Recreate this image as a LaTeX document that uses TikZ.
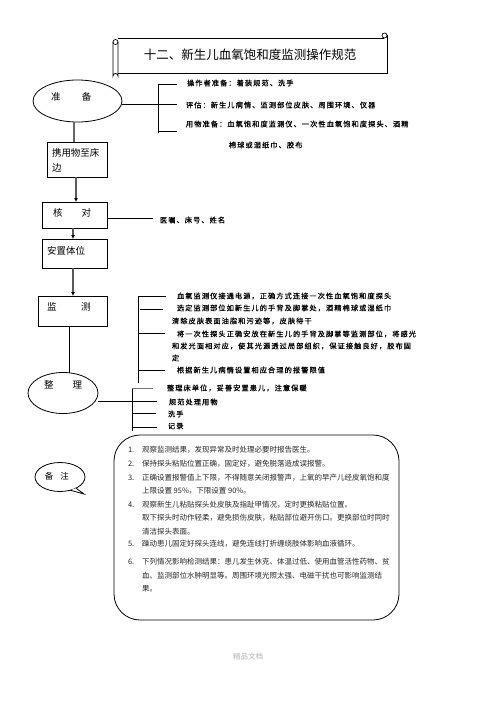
\documentclass[tikz,border=0pt]{standalone}
\usepackage{fontspec}
\setmainfont{Noto Sans CJK SC}
\newfontfamily\annfont[LetterSpace=15,FakeBold=0.6]{Noto Sans CJK SC}
\usetikzlibrary{shapes.geometric,arrows.meta,calc}
\begin{document}
\begin{tikzpicture}[x=1pt,y=-1pt,
  every node/.style={inner sep=0,outer sep=0},
  ln/.style={draw=black,line width=0.8pt},
  gln/.style={draw=black!60,line width=1.6pt},
  arr/.style={draw=black!65,line width=1.3pt,-{Latex[length=4pt,width=4pt,color=black]}},
  ell/.style={ellipse,draw,line width=0.8pt},
  bx/.style={rectangle,draw,line width=0.9pt},
  ann/.style={anchor=west,font=\annfont\fontsize{7.2}{8}\selectfont},
  lbl/.style={anchor=west,font=\fontsize{9.5}{11}\selectfont},
  nt/.style={anchor=west,font=\fontsize{7.5}{9}\selectfont,text=black!85},
]
\useasboundingbox (0,0) rectangle (496,702);
\fill[white] (0,0) rectangle (496,702);

% ---------- title scroll ----------
\draw[line width=0.8pt] (118,38) -- (384,38);
\draw[line width=0.8pt] (387,35) -- (387,73) -- (118,73);
\draw[line width=0.8pt] (113,42) -- (113,76) arc[start angle=180,end angle=360,radius=2.5] -- (118,42);
\draw[line width=0.7pt] (115.5,42) circle[radius=2.5];
\draw[line width=0.7pt] (384.5,35.5) circle[radius=2.5];
\node[font=\fontsize{12.5}{14}\selectfont] (title) at (250,55) {十二、新生儿血氧饱和度监测操作规范};

% ---------- left column ----------
\node[ell,minimum width=89,minimum height=42] (zb) at (77.5,101) {};
\node[lbl] (zbt) at (51,97) {准\hspace{2.25em}备};

\node[bx,minimum width=60,minimum height=35] (xy) at (77,159.5) {};
\node[anchor=north west,font=\fontsize{9.5}{15}\selectfont,align=left] (xyt) at (52,148) {携用物至床\\边};

\node[bx,minimum width=65,minimum height=26] (hd) at (74.5,215) {};
\node[lbl] (hdt) at (53,213) {核\hspace{2em}对};

\node[bx,minimum width=65,minimum height=29] (az) at (74.5,253.5) {};
\node[lbl] (azt) at (47,251) {安置体位};

\node[bx,minimum width=69,minimum height=30] (jc) at (72.5,311) {};
\node[lbl] (jct) at (47,307) {监\hspace{2.6em}测};

\node[ell,minimum width=70,minimum height=41] (zl) at (63,393) {};
\node[lbl] (zlt) at (44,385) {整\hspace{2em}理};

\node[ell,minimum width=50,minimum height=29] (bz) at (60,477) {};
\draw[line width=0.8pt,fill=white] (bz.-35) -- (84,494) -- (bz.-52);
\node[anchor=west,font=\fontsize{8.5}{10}\selectfont] (bzt) at (45,476) {备\hspace{0.8em}注};

% connectors in left column
\draw[gln] ([xshift=-3.5]zb.south) -- ([xshift=-3.5]zb.south |- xy.north);
\draw[arr] ([xshift=-1]xy.south) -- ([xshift=-1]xy.south |- hd.north);
\draw[arr] ([xshift=-1.5]hd.south) -- ([xshift=-1.5]hd.south |- az.north);
\draw[arr] ([xshift=-1.5]az.south) -- ([xshift=-1.5]az.south |- jc.north);
\draw[ln] ([xshift=-3.5]jc.south) -- ([xshift=-3.5]jc.south |- zl.north);

% ---------- 准备 bracket ----------
\coordinate (p0) at (177,104);
\draw[ln] (zb.east |- p0) -- (p0);
\draw[ln] (158,84) -- (158,133);
\draw[ln] (158,84) -- (177,84);
\draw[ln] (158,131) -- (177,131);
\node[ann] (t1) at (187,83) {操作者准备：着装规范、洗手};
\node[ann] (t2) at (186,105) {评估：新生儿病情、监测部位皮肤、周围环境、仪器};
\node[ann] (t3) at (186,124) {用物准备：血氧饱和度监测仪、一次性血氧饱和度探头、酒精};
\node[ann] (t4) at (229,145) {棉球或湿纸巾、胶布};

% ---------- 核对 ----------
\node[ann] (h1) at (160,220) {医嘱、床号、姓名};
\coordinate (h0) at (153,218);
\draw[ln] (hd.east |- h0) -- (h0);

% ---------- 监测 bracket ----------
\draw[ln] (138,296) -- (138,383);
\draw[ln] (138,296) -- (166,296);
\draw[ln] (140,309) -- (163,309);
\draw[ln] (138,333) -- (165,333);
\draw[ln] (138,370) -- (165,370);
\node[ann] (m1) at (177,296) {血氧监测仪接通电源，正确方式连接一次性血氧饱和度探头};
\node[ann] (m2) at (177,308) {选定监测部位如新生儿的手背及脚掌处，酒精棉球或湿纸巾};
\node[ann] (m3) at (172,321) {清除皮肤表面油脂和污迹等，皮肤待干};
\node[ann] (m4) at (177,334) {将一次性探头正确安放在新生儿的手背及脚掌等监测部位，将感光};
\node[ann] (m5) at (172,346) {和发光面相对应，使其光源透过局部组织，保证接触良好，胶布固};
\node[ann] (m6) at (172,358) {定};
\node[ann] (m7) at (177,370) {根据新生儿病情设置相应合理的报警限值};

% ---------- 整理 bracket ----------
\coordinate (q0) at (157,401);
\draw[ln] (zl.east |- q0) -- (q0);
\draw[ln] (132,388) -- (132,431);
\draw[draw=black!55,line width=1pt] (132,388) -- (153,388);
\draw[ln] (132,413) -- (156,413);
\draw[ln] (132,427) -- (157,427);
\node[ann] (z1) at (167,388) {整理床单位，妥善安置患儿，注意保暖};
\node[ann] (z2) at (169,402) {规范处理用物};
\node[ann] (z3) at (168,414) {洗手};
\node[ann] (z4) at (168,426) {记录};

% ---------- 备注 box ----------
\node[draw,line width=0.8pt,rounded corners=26,minimum width=285,minimum height=185] (note) at (256.5,527.5) {};
\node[nt] (n1) at (128,450) {1.};
\node[nt] (n1t) at (142,450) {观察监测结果，发现异常及时处理必要时报告医生。};
\node[nt] (n2) at (128,464) {2.};
\node[nt] (n2t) at (142,464) {保持探头粘贴位置正确，固定好，避免脱落造成误报警。};
\node[nt] (n3) at (128,478) {3.};
\node[nt] (n3t) at (142,478) {正确设置报警值上下限，不得随意关闭报警声，上氧的早产儿经皮氧饱和度};
\node[nt] (n3u) at (142,491) {上限设置 95\%，下限设置 90\%。};
\node[nt] (n4) at (128,505) {4.};
\node[nt] (n4t) at (142,505) {观察新生儿粘贴探头处皮肤及指趾甲情况，定时更换粘贴位置。};
\node[nt] (n4u) at (142,518) {取下探头时动作轻柔，避免损伤皮肤，粘贴部位避开伤口。更换部位时同时};
\node[nt] (n4v) at (142,532) {清洁探头表面。};
\node[nt] (n5) at (128,544) {5.};
\node[nt] (n5t) at (142,544) {躁动患儿固定好探头连线，避免连线打折缠绕肢体影响血液循环。};
\node[nt] (n6) at (128,562) {6.};
\node[nt] (n6t) at (142,562) {下列情况影响检测结果：患儿发生休克、体温过低、使用血管活性药物、贫};
\node[nt] (n6u) at (142,576) {血、监测部位水肿明显等。周围环境光照太强、电磁干扰也可影响监测结};
\node[nt] (n6v) at (142,589) {果。};

% footer
\node[font=\fontsize{7.5}{9}\selectfont,text=black!30] (foot) at (248,657) {精品文档};
\end{tikzpicture}
\end{document}
